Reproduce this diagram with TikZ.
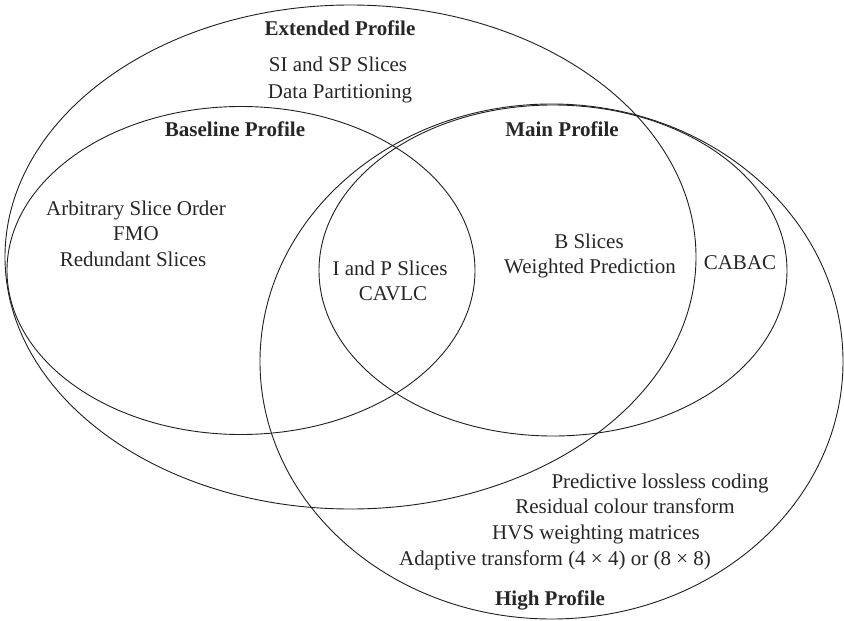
\documentclass[tikz,border=0pt]{standalone}
\usepackage{fontspec}
\setmainfont{Liberation Serif}
\begin{document}
\begin{tikzpicture}[x=1pt,y=-1pt,
  profile/.style={draw=black!88, line width=0.9pt},
  lbl/.style={inner sep=0pt, anchor=center, text height=0.68em, text depth=0pt,
              font=\fontsize{21}{25}\selectfont, text=black!85},
  title/.style={lbl, font=\fontsize{21}{25}\selectfont\bfseries}]
\useasboundingbox (0,0) rectangle (844,621);

% profile sets
\coordinate (ext)  at (350.5,257);
\coordinate (base) at (241,270.5);
\coordinate (main) at (553,270.5);
\coordinate (high) at (551.5,361.5);

\draw[profile] (ext)  ellipse [x radius=345.5pt, y radius=252pt];
\draw[profile] (base) ellipse [x radius=234pt,   y radius=164pt];
\draw[profile] (main) ellipse [x radius=234pt,   y radius=165.5pt];
\draw[profile] (high) ellipse [x radius=291.5pt, y radius=257.5pt];

% Extended profile
\node[title] (extT) at (340,32) {Extended Profile};
\node[lbl] (sisp) at (338,68) {SI and SP Slices};
\node[lbl] (dp)   at (340,95) {Data Partitioning};

% Baseline profile
\node[title] (baseT) at (235,133) {Baseline Profile};
\node[lbl] (aso) at (136,212) {Arbitrary Slice Order};
\node[lbl] (fmo) at (136,237) {FMO};
\node[lbl] (rs)  at (133,263) {Redundant Slices};

% common to all
\node[lbl] (ip)    at (390,272) {I and P Slices};
\node[lbl] (cavlc) at (393,297) {CAVLC};

% Main profile
\node[title] (mainT) at (562,133) {Main Profile};
\node[lbl] (bsl) at (589,245) {B Slices};
\node[lbl] (wp)  at (590,270) {Weighted Prediction};
\node[lbl] (cabac) at (740,266) {CABAC};

% High profile
\node[lbl] (plc) at (660,485) {Predictive lossless coding};
\node[lbl] (rct) at (625,510) {Residual colour transform};
\node[lbl] (hvs) at (596,536) {HVS weighting matrices};
\node[lbl] (at)  at (555,562) {Adaptive transform (4 × 4) or (8 × 8)};
\node[title] (highT) at (550,602) {High Profile};
\end{tikzpicture}
\end{document}
